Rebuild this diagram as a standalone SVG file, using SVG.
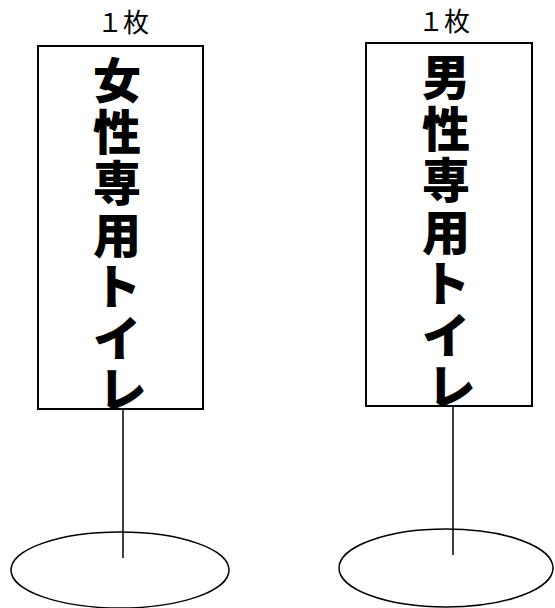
<svg xmlns="http://www.w3.org/2000/svg" width="555" height="608" viewBox="0 0 555 608">
<style>
.bg{fill:#fff}
.sign{fill:#fff;stroke:#000;stroke-width:2}
.pole{stroke:#000;stroke-width:1.5;fill:none}
.base{fill:none;stroke:#000;stroke-width:1.5}
.count{font-family:"Noto Sans CJK JP","Noto Sans",sans-serif;font-size:26px;fill:#000;text-anchor:middle}
.big{font-family:"Noto Sans CJK JP",sans-serif;font-size:48px;font-weight:900;fill:#000;text-anchor:middle}
</style>
<rect class="bg" x="0" y="0" width="555" height="608"/>
<g id="connectors">
  <line class="pole" x1="123" y1="409" x2="123" y2="558"/>
  <line class="pole" x1="453" y1="406" x2="453" y2="555"/>
</g>
<g id="sign-female">
  <text class="count" x="123" y="32">１枚</text>
  <rect class="sign" x="38" y="46" width="165" height="363"/>
  <text class="big">
    <tspan x="122.5" y="98">女</tspan>
    <tspan x="122.5" y="149.5">性</tspan>
    <tspan x="122.5" y="201">専</tspan>
    <tspan x="122.5" y="252.5">用</tspan>
    <tspan x="122.5" y="304">ト</tspan>
    <tspan x="122.5" y="355.5">イ</tspan>
    <tspan x="122.5" y="407">レ</tspan>
  </text>
</g>
<g id="sign-male">
  <text class="count" x="444" y="31">１枚</text>
  <rect class="sign" x="366" y="43" width="166" height="363"/>
  <text class="big">
    <tspan x="451.5" y="95">男</tspan>
    <tspan x="451.5" y="146.5">性</tspan>
    <tspan x="451.5" y="198">専</tspan>
    <tspan x="451.5" y="249.5">用</tspan>
    <tspan x="451.5" y="301">ト</tspan>
    <tspan x="451.5" y="352.5">イ</tspan>
    <tspan x="451.5" y="404">レ</tspan>
  </text>
</g>
<g id="base-female">
  <ellipse class="base" cx="120" cy="570" rx="109" ry="38"/>
</g>
<g id="base-male">
  <ellipse class="base" cx="446" cy="568" rx="107" ry="39"/>
</g>
</svg>
